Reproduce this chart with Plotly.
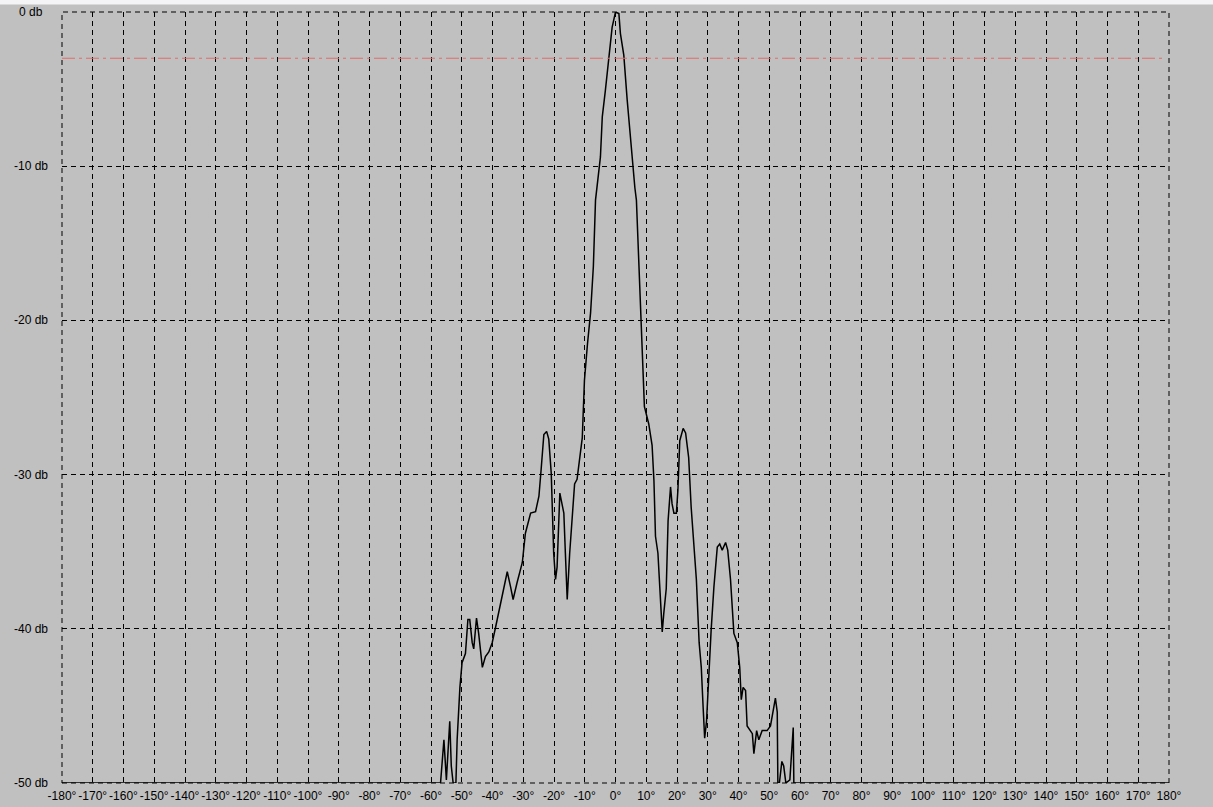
import plotly.graph_objects as go

# Radiation pattern: angle (degrees) vs. relative level (dB)
angle_deg = [
    -180, -56.9, -55.8, -55.0, -53.9, -53.4, -52.8, -51.9, -51.5, -50.6, -49.9,
    -48.8, -48.0, -47.4, -46.6, -46.1, -45.2, -44.5, -43.3, -42.3, -41.2,
    -40.1, -39.0, -38.0, -36.8, -35.2, -34.1, -33.3, -32.0, -30.3, -29.3,
    -27.6, -26.0, -24.9, -24.2, -23.3, -22.4, -21.7, -20.9, -20.5, -20.1,
    -19.5, -19.0, -18.1, -17.3, -16.8, -16.3, -15.7, -14.9, -14.1, -13.3,
    -12.5, -11.6, -10.8, -10.5, -10.1, -9.1, -8.1, -7.2, -6.5, -4.9,
    -4.3, -3.3, -2.2, -1.1, 0.0, 1.1, 1.6, 2.7, 3.8, 4.7,
    5.4, 6.3, 6.8, 7.8, 8.5, 9.2, 9.4, 10.8, 11.9, 12.5,
    13.0, 13.8, 14.4, 15.2, 15.7, 16.5, 17.1, 17.9, 18.4, 19.0,
    19.8, 20.3, 20.9, 22.0, 22.8, 23.8, 24.6, 25.5, 26.3, 27.2,
    27.9, 28.5, 29.0, 29.6, 30.3, 31.1, 32.0, 33.1, 33.9, 34.7,
    35.8, 36.5, 37.4, 38.5, 39.6, 40.4, 40.9, 41.5, 42.3, 42.8,
    44.5, 45.0, 45.9, 46.6, 47.7, 49.3, 50.4, 51.3, 52.0, 52.6,
    52.8, 53.3, 54.1, 54.7, 55.4, 56.7, 57.3, 57.8, 58.0, 180,
]
level_db = [
    -50, -50, -47.2, -49.8, -46.0, -48.9, -50, -50, -47.2, -43.8, -42.2,
    -41.6, -39.4, -39.4, -40.9, -41.3, -39.3, -40.3, -42.5, -41.8, -41.5,
    -40.9, -39.9, -39.0, -37.7, -36.3, -37.3, -38.1, -37.0, -35.7, -33.8,
    -32.5, -32.4, -31.4, -29.7, -27.4, -27.2, -27.7, -29.9, -32.5, -35.1,
    -36.8, -36.0, -31.2, -31.9, -32.5, -35.1, -38.1, -35.1, -32.9, -30.6,
    -30.3, -28.9, -27.6, -26.0, -23.9, -21.5, -19.5, -16.5, -12.2, -9.4,
    -6.8, -5.1, -2.8, -1.0, 0.0, -0.1, -1.4, -2.8, -5.7, -7.9,
    -9.6, -11.4, -12.2, -17.0, -21.0, -23.9, -25.6, -26.7, -28.1, -30.4,
    -34.0, -35.1, -37.7, -40.2, -39.0, -37.4, -33.0, -30.8, -31.9, -32.5,
    -32.5, -31.0, -27.8, -27.0, -27.3, -28.9, -32.1, -34.3, -36.8, -40.9,
    -42.5, -45.1, -47.1, -46.0, -42.9, -40.1, -37.3, -34.7, -34.5, -34.9,
    -34.4, -34.9, -36.8, -40.3, -40.9, -42.5, -44.6, -43.8, -44.0, -46.3,
    -46.8, -48.1, -46.6, -47.2, -46.6, -46.6, -46.3, -45.3, -44.5, -45.4,
    -50, -50, -48.6, -48.9, -50, -49.8, -48.1, -46.4, -50, -50,
]

# Axis ticks
x_ticks = list(range(-180, 181, 10))
x_tick_text = [f"{v}°" for v in x_ticks]
y_ticks = [0, -10, -20, -30, -40, -50]
y_tick_text = [f"{v} db" for v in y_ticks]

# Half-power (-3 dB) reference level
half_power_db = -3

BG = "#c0c0c0"
FONT = "Liberation Sans, Arial, sans-serif"
GRID_DASH = "5px,4px"

fig = go.Figure()

# Dashed frame around the plotting area (edge grid lines)
fig.add_shape(
    type="rect", xref="paper", yref="paper", x0=0, x1=1, y0=0, y1=1,
    line=dict(color="#000000", width=1, dash=GRID_DASH),
    fillcolor="rgba(0,0,0,0)", layer="below",
)

fig.add_trace(go.Scatter(
    x=angle_deg, y=level_db, mode="lines",
    line=dict(color="#000000", width=1.5),
    hoverinfo="x+y", showlegend=False, cliponaxis=False,
))

fig.add_shape(
    type="line", xref="paper", yref="y",
    x0=0, x1=0.996, y0=half_power_db, y1=half_power_db,
    line=dict(color="#e46a6a", width=1, dash="13px,4px,3px,4px"),
    layer="above",
)

# Light strip along the top edge
fig.add_shape(
    type="rect", xref="paper", yref="paper",
    x0=-0.06, x1=1.05, y0=1.0097, y1=1.02,
    fillcolor="#f4f4f6", line=dict(width=0), layer="below",
)

# Level labels centred in the left margin
for v, t in zip(y_ticks, y_tick_text):
    fig.add_annotation(
        x=0, xref="paper", y=v, yref="y", text=t, showarrow=False,
        xanchor="center", yanchor="middle", xshift=-31,
        font=dict(family=FONT, size=12, color="#000000"),
    )

fig.update_xaxes(
    range=[-180, 180], tickvals=x_ticks, ticktext=x_tick_text, tickangle=0,
    showgrid=True, gridcolor="#000000", gridwidth=1, griddash=GRID_DASH,
    zeroline=False, showline=False, ticks="", ticklabelstandoff=4,
    tickfont=dict(family=FONT, size=12, color="#000000"),
    automargin=False, fixedrange=True,
)
fig.update_yaxes(
    range=[-50, 0], tickvals=y_ticks, showticklabels=False,
    showgrid=True, gridcolor="#000000", gridwidth=1, griddash=GRID_DASH,
    zeroline=False, showline=False, ticks="",
    automargin=False, fixedrange=True,
)

fig.update_layout(
    width=1213, height=807,
    margin=dict(l=62, r=44, t=11.5, b=24),
    paper_bgcolor=BG, plot_bgcolor=BG,
    showlegend=False,
)

fig.write_html("out.html", config={"displayModeBar": False})
